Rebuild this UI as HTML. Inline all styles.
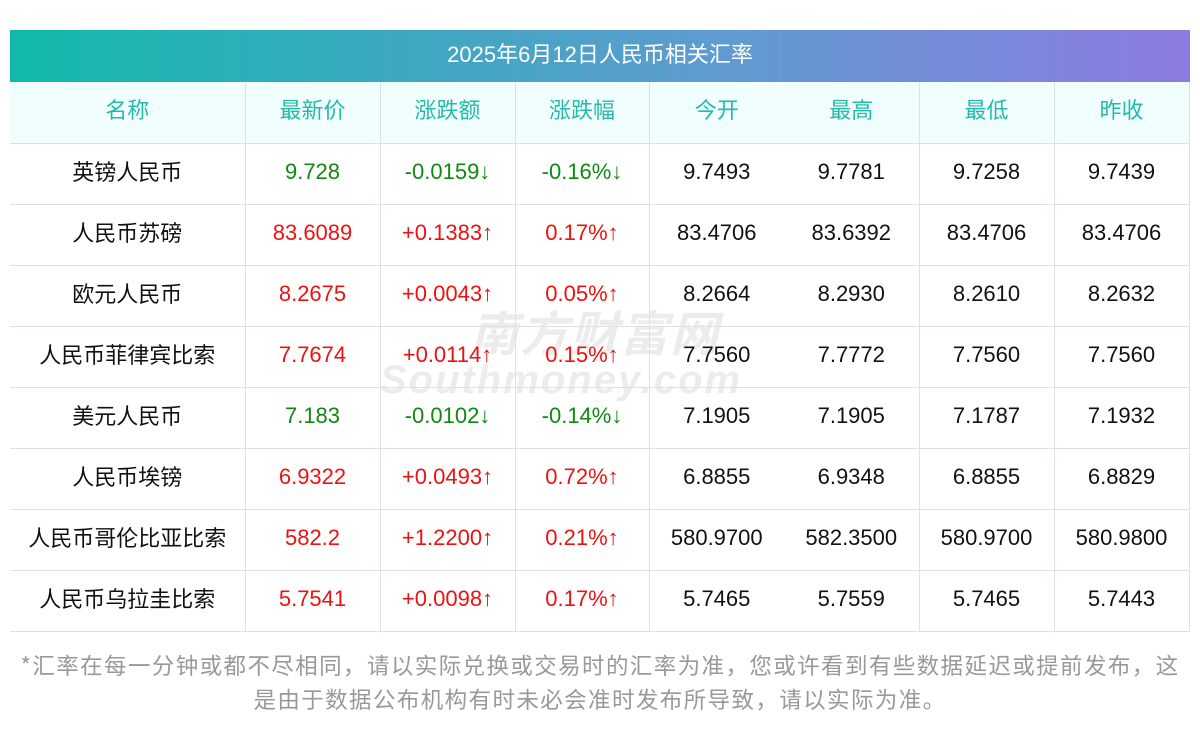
<!DOCTYPE html>
<html><head><meta charset="utf-8"><style>
*{margin:0;padding:0;box-sizing:border-box}
body{width:1200px;height:733px;background:#fff;position:relative;overflow:hidden;font-family:"Liberation Sans","Noto Sans CJK SC",sans-serif}
.title{position:absolute;left:10px;top:30px;width:1180px;height:52px;background:linear-gradient(90deg,#12b9ab,#5f9bd0 60%,#8c7be0);color:#fff;font-size:22px;line-height:50px;text-align:center}
table{position:absolute;left:10px;top:82px;border-collapse:collapse;table-layout:fixed;width:1179px}
td{height:61px;text-align:center;font-size:22px;color:#111;border-bottom:1px solid #dde0ea;border-right:1px solid #dde0ea;padding:0 0 3px 0}
td.c{font-family:"Noto Sans CJK SC",sans-serif;padding:0 0 6px 0}
tr.h td{background:#f0fffe;color:#25b9ad}
td.nb{border-right:none}
.g{color:#118811}.r{color:#ee1111}
.foot{position:absolute;left:0;top:648px;width:1200px;text-align:center;color:#999;font-size:22.5px;line-height:34px;letter-spacing:1.4px;font-family:"Noto Sans CJK SC",sans-serif}
.wm{position:absolute;color:rgba(200,200,200,.35);font-style:italic;font-weight:bold;letter-spacing:2px}
</style></head><body>
<div class="title">2025年6月12日人民币相关汇率</div>
<div class="wm" style="left:470px;top:295px;font-size:48px">南方财富网</div>
<div class="wm" style="left:380px;top:358px;font-size:40px">Southmoney.com</div>
<table>
<colgroup><col style="width:235px"><col style="width:135px"><col style="width:135px"><col style="width:134px"><col style="width:135px"><col style="width:135px"><col style="width:135px"><col style="width:135px"></colgroup>
<tr class="h"><td class="c">名称</td><td class="c">最新价</td><td class="c">涨跌额</td><td class="c">涨跌幅</td><td class="c nb">今开</td><td class="c">最高</td><td class="c">最低</td><td class="c">昨收</td></tr>
<tr><td class="c">英镑人民币</td><td class="g">9.728</td><td class="g">-0.0159↓</td><td class="g">-0.16%↓</td><td class="nb">9.7493</td><td>9.7781</td><td>9.7258</td><td>9.7439</td></tr>
<tr><td class="c">人民币苏磅</td><td class="r">83.6089</td><td class="r">+0.1383↑</td><td class="r">0.17%↑</td><td class="nb">83.4706</td><td>83.6392</td><td>83.4706</td><td>83.4706</td></tr>
<tr><td class="c">欧元人民币</td><td class="r">8.2675</td><td class="r">+0.0043↑</td><td class="r">0.05%↑</td><td class="nb">8.2664</td><td>8.2930</td><td>8.2610</td><td>8.2632</td></tr>
<tr><td class="c">人民币菲律宾比索</td><td class="r">7.7674</td><td class="r">+0.0114↑</td><td class="r">0.15%↑</td><td class="nb">7.7560</td><td>7.7772</td><td>7.7560</td><td>7.7560</td></tr>
<tr><td class="c">美元人民币</td><td class="g">7.183</td><td class="g">-0.0102↓</td><td class="g">-0.14%↓</td><td class="nb">7.1905</td><td>7.1905</td><td>7.1787</td><td>7.1932</td></tr>
<tr><td class="c">人民币埃镑</td><td class="r">6.9322</td><td class="r">+0.0493↑</td><td class="r">0.72%↑</td><td class="nb">6.8855</td><td>6.9348</td><td>6.8855</td><td>6.8829</td></tr>
<tr><td class="c">人民币哥伦比亚比索</td><td class="r">582.2</td><td class="r">+1.2200↑</td><td class="r">0.21%↑</td><td class="nb">580.9700</td><td>582.3500</td><td>580.9700</td><td>580.9800</td></tr>
<tr><td class="c">人民币乌拉圭比索</td><td class="r">5.7541</td><td class="r">+0.0098↑</td><td class="r">0.17%↑</td><td class="nb">5.7465</td><td>5.7559</td><td>5.7465</td><td>5.7443</td></tr>
</table>
<div class="foot">*汇率在每一分钟或都不尽相同，请以实际兑换或交易时的汇率为准，您或许看到有些数据延迟或提前发布，这<br>是由于数据公布机构有时未必会准时发布所导致，请以实际为准。</div>
</body></html>
